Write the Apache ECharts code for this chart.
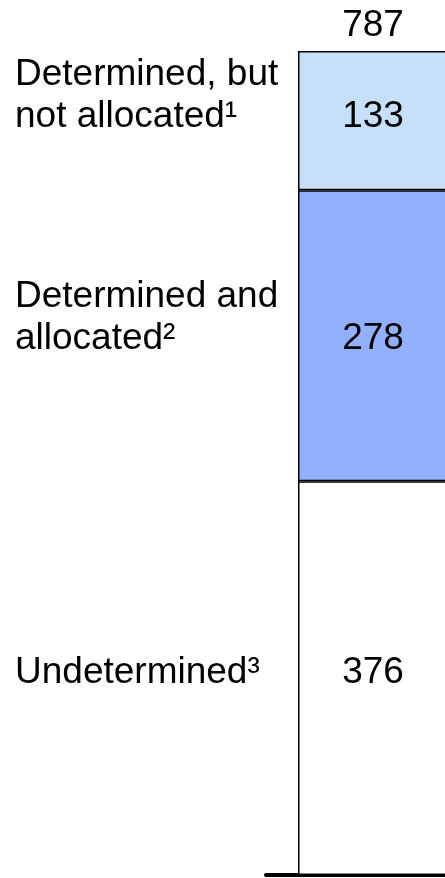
<!DOCTYPE html>
<html>
<head>
<meta charset="utf-8">
<script src="https://cdn.jsdelivr.net/npm/echarts@6/dist/echarts.min.js"></script>
<style>
html, body { margin: 0; padding: 0; background: #fff; }
#main { width: 445px; height: 878px; }
</style>
</head>
<body>
<div id="main"></div>
<script>
// one stacked bar, bottom segment first
var categories = ['Total'];
var segNames = ['Undetermined³', 'Determined and\nallocated²', 'Determined, but\nnot allocated¹'];
var segValues = [376, 278, 133];
var segColors = ['#ffffff', '#91b1fe', '#c7e0fa'];
var total = segValues.reduce(function(a, b) { return a + b; }, 0);

var font = "'Liberation Sans', Arial, sans-serif";
var valueOffsets = [-5, 3, -4];

var myChart = echarts.init(document.getElementById('main'));
var series = [];
for (var i = 0; i < segValues.length; i++) {
    series.push({
        name: segNames[i],
        type: 'bar',
        stack: 'v',
        barWidth: 336,
        silent: true,
        data: [segValues[i]],
        itemStyle: { color: segColors[i], borderColor: '#000', borderWidth: 1.5 },
        label: {
            show: true,
            position: [75, '50%'],
            align: 'center',
            verticalAlign: 'middle',
            offset: [0, valueOffsets[i]],
            fontSize: 37,
            fontFamily: font,
            color: '#000'
        }
    });
}
// total on top of the stack
series.push({
    name: 'total',
    type: 'bar',
    stack: 'v',
    barWidth: 336,
    silent: true,
    data: [0],
    itemStyle: { color: 'transparent', borderWidth: 0 },
    label: {
        show: true,
        position: [75, 0],
        align: 'center',
        verticalAlign: 'middle',
        offset: [0, -25],
        formatter: function() { return String(total); },
        fontSize: 37,
        fontFamily: font,
        color: '#000'
    }
});
// segment names to the left, drawn on a transparent copy of the stack in a second grid
for (var j = 0; j < segValues.length; j++) {
    series.push({
        name: 'lbl' + j,
        type: 'bar',
        stack: 'n',
        xAxisIndex: 1,
        yAxisIndex: 1,
        barWidth: 336,
        silent: true,
        data: [segValues[j]],
        itemStyle: { color: 'transparent', borderWidth: 0 },
        label: {
            show: true,
            position: [-283, '50%'],
            align: 'left',
            verticalAlign: 'bottom',
            offset: [0, 21 + valueOffsets[j]],
            lineHeight: 42,
            formatter: segNames[j],
            fontSize: 37,
            fontFamily: font,
            color: '#000'
        }
    });
}

var option = {
    animation: false,
    grid: [
        { left: 266, width: 400, top: 51, bottom: 3, outerBoundsMode: 'none' },
        { left: 266, width: 400, top: 51, bottom: 3, outerBoundsMode: 'none' }
    ],
    xAxis: [
        {
            type: 'category',
            data: categories,
            gridIndex: 0,
            axisLine: { lineStyle: { color: '#000', width: 4 } },
            axisTick: { show: false },
            axisLabel: { show: false }
        },
        {
            type: 'category',
            data: categories,
            gridIndex: 1,
            show: false
        }
    ],
    yAxis: [
        { type: 'value', min: 0, max: total, gridIndex: 0, show: false },
        { type: 'value', min: 0, max: total, gridIndex: 1, show: false }
    ],
    series: series
};
myChart.setOption(option);
</script>
</body>
</html>
